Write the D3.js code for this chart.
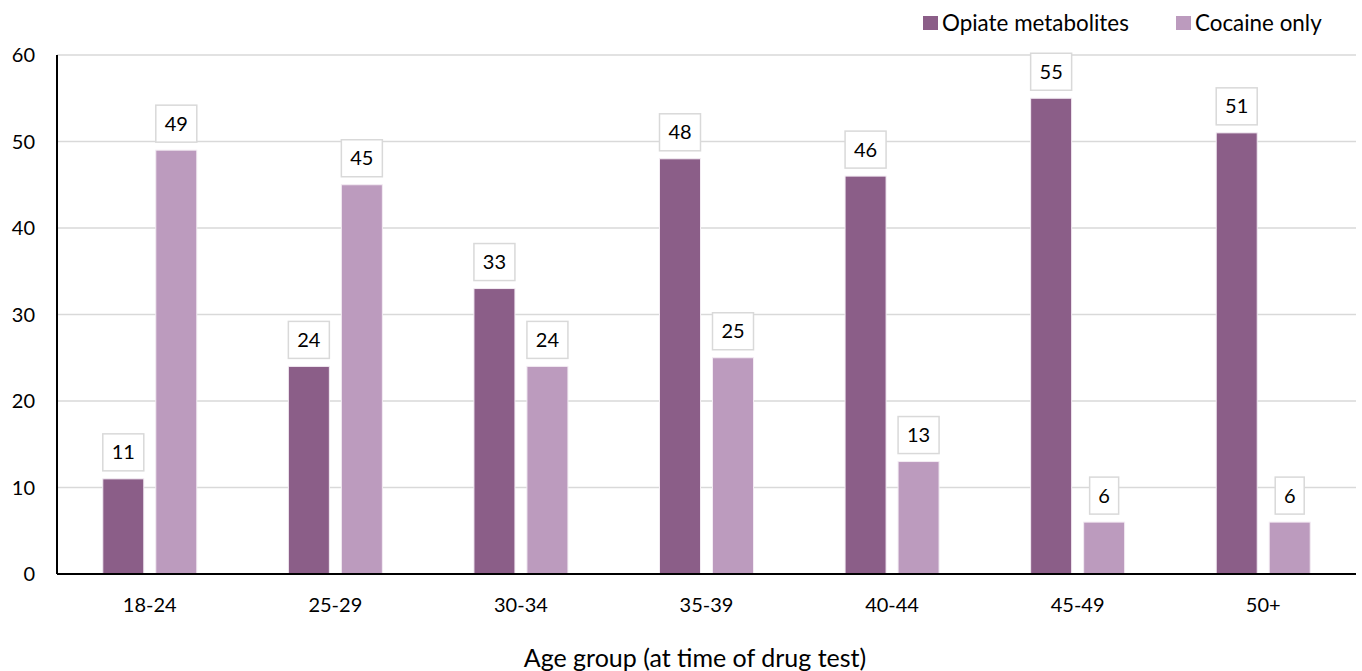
<!DOCTYPE html>
<html><head><meta charset="utf-8">
<script src="https://cdn.jsdelivr.net/npm/d3@7"></script>
<style>body{margin:0;background:#fff}svg{display:block}text{font-family:Lato,"Open Sans",sans-serif;fill:#000}</style>
</head><body>
<script>
const categories = ["18-24","25-29","30-34","35-39","40-44","45-49","50+"];
const seriesNames = ["Opiate metabolites","Cocaine only"];
const opiate = [11,24,33,48,46,55,51];
const cocaine = [49,45,24,25,13,6,6];
const yTicks = [0,10,20,30,40,50,60];
const colors = ["#8B5E88","#BC9BBE"];

const W=1362,H=671;
const m={l:57,r:6,t:55,b:97};
const svg=d3.select("body").append("svg").attr("width",W).attr("height",H);
const x=d3.scaleBand().domain(categories).range([m.l,W-m.r]).paddingInner(0).paddingOuter(0);
const y=d3.scaleLinear().domain([0,60]).range([H-m.b,m.t]);
const barW=41,gap=12;

svg.append("g").selectAll("line").data(yTicks.filter(d=>d>0)).join("line")
 .attr("x1",m.l).attr("x2",W-m.r).attr("y1",d=>y(d)).attr("y2",d=>y(d))
 .attr("stroke","#d9d9d9").attr("stroke-width",1.5);

svg.append("g").selectAll("text").data(yTicks).join("text")
 .attr("x",35).attr("y",d=>y(d)).attr("dy","0.35em").attr("text-anchor","end")
 .attr("font-size",20).text(d=>d);

const series=[opiate,cocaine];
series.forEach((vals,si)=>{
  const g=svg.append("g");
  const bx=(c)=>x(c)+x.bandwidth()/2-(barW*2+gap)/2+si*(barW+gap);
  g.selectAll("rect").data(categories).join("rect")
   .attr("x",c=>bx(c)).attr("width",barW)
   .attr("y",(c,i)=>y(vals[i])).attr("height",(c,i)=>y(0)-y(vals[i]))
   .attr("fill",colors[si]).attr("stroke","#f3ecf3").attr("stroke-width",1);
  const lg=svg.append("g");
  categories.forEach((c,i)=>{
    const v=vals[i];
    const txt=String(v);
    const bw=txt.length>1?41:29, bh=37;
    const cx=bx(c)+barW/2;
    const by=y(v)-8-bh;
    lg.append("rect").attr("x",cx-bw/2).attr("y",by).attr("width",bw).attr("height",bh)
      .attr("fill","#fff").attr("stroke","#d9d9d9").attr("stroke-width",1.5);
    lg.append("text").attr("x",cx).attr("y",by+bh/2).attr("dy","0.35em")
      .attr("text-anchor","middle").attr("font-size",20).text(txt);
  });
});

svg.append("line").attr("x1",m.l).attr("x2",m.l).attr("y1",m.t).attr("y2",y(0)).attr("stroke","#000").attr("stroke-width",2);
svg.append("line").attr("x1",m.l).attr("x2",W-m.r).attr("y1",y(0)).attr("y2",y(0)).attr("stroke","#000").attr("stroke-width",2);

svg.append("g").selectAll("text").data(categories).join("text")
 .attr("x",c=>x(c)+x.bandwidth()/2).attr("y",612).attr("text-anchor","middle")
 .attr("font-size",20).text(c=>c);

svg.append("text").attr("x",695).attr("y",667).attr("text-anchor","middle").attr("font-size",25)
 .text("Age group (at time of drug test)");

const legX=[923,1176];
seriesNames.forEach((n,i)=>{
  svg.append("rect").attr("x",legX[i]).attr("y",16).attr("width",15).attr("height",14).attr("fill",colors[i]);
  svg.append("text").attr("x",legX[i]+19).attr("y",31).attr("font-size",22.4).text(n);
});
</script>
</body></html>
